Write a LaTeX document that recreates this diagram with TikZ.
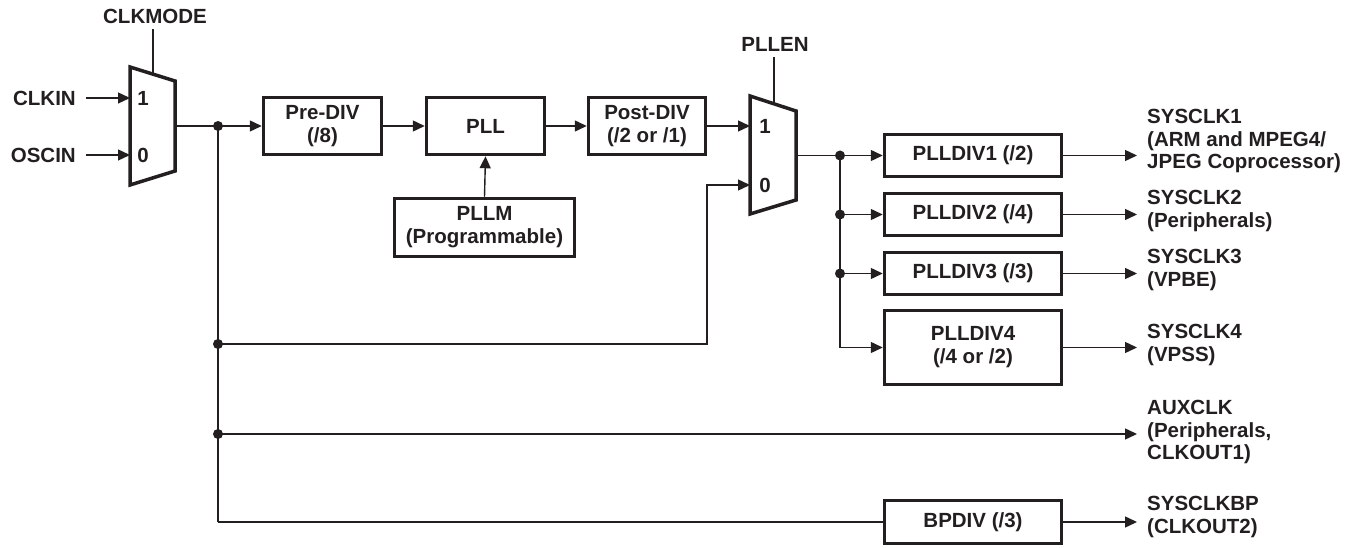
\documentclass[tikz,border=0pt]{standalone}
\usepackage{fontspec}
\setmainfont{Liberation Sans}
\usetikzlibrary{arrows.meta}
\definecolor{ink}{HTML}{231F20}
\tikzset{
  wire/.style={draw=ink, line width=1.4pt},
  arr/.style={wire, -{Triangle[length=12pt,width=11pt]}},
  blk/.style={draw=ink, line width=3.5pt, minimum height=#1, inner sep=0pt, align=center, font=\bfseries\fontsize{20.5}{23}\selectfont, text=ink},
  lbl/.style={inner sep=0pt, align=left, font=\bfseries\fontsize{20.5}{22.5}\selectfont, text=ink},
  muxs/.style={draw=ink, line width=3.5pt, line join=miter},
  jdot/.style={circle, fill=ink, inner sep=0pt, minimum size=10pt},
}
\begin{document}
\begin{tikzpicture}[x=1pt,y=-1pt]
\useasboundingbox (0,0) rectangle (1363,548);

% multiplexers
\draw[muxs] (130,67) -- (175,81) -- (175,171) -- (130,185) -- cycle;
\draw[muxs] (750,96) -- (796,111) -- (796,200) -- (750,214) -- cycle;
\coordinate (m1a) at (130,98);
\coordinate (m1b) at (130,155);
\coordinate (m1o) at (175,126);
\coordinate (m1s) at (153,74);
\coordinate (m2a) at (750,126);
\coordinate (m2b) at (750,185);
\coordinate (m2o) at (796,155.5);
\coordinate (m2s) at (774,104);
\node[lbl] (m1one) at (143,98) {1};
\node[lbl] (m1zero) at (143,155) {0};
\node[lbl] (m2one) at (765,126) {1};
\node[lbl] (m2zero) at (765,185) {0};

% select labels
\node[lbl] (clkmode) at (155,16) {CLKMODE};
\node[lbl] (pllen) at (775,44) {PLLEN};
\draw[wire] (clkmode.south) ++(-2,6) coordinate (cms) -- (m1s);
\draw[wire] (pllen.south) ++(-1,6) coordinate (pes) -- (m2s);

% inputs
\node[lbl, anchor=east] (clkin) at (76,98) {CLKIN};
\node[lbl, anchor=east] (oscin) at (76,155) {OSCIN};
\draw[arr] (clkin.east) ++(10,0) -- (m1a);
\draw[arr] (oscin.east) ++(10,0) -- (m1b);

% blocks
\node[blk=57pt, minimum width=118pt] (pre) at (322.5,126) {Pre-DIV\\(/8)};
\node[blk=57pt, minimum width=118pt] (pll) at (485.5,126) {PLL};
\node[blk=57pt, minimum width=117pt] (post) at (647,126) {Post-DIV\\(/2 or /1)};
\node[blk=58pt, minimum width=180pt] (pllm) at (484.5,227.5) {PLLM\\(Programmable)};
\node[blk=42pt, minimum width=177pt] (d1) at (973,155.5) {PLLDIV1 (/2)};
\node[blk=42pt, minimum width=177pt] (d2) at (973,214.5) {PLLDIV2 (/4)};
\node[blk=42pt, minimum width=177pt] (d3) at (973,273.5) {PLLDIV3 (/3)};
\node[blk=74pt, minimum width=177pt] (d4) at (973,347.5) {PLLDIV4\\(/4 or /2)};
\node[blk=43pt, minimum width=177pt] (bp) at (973,522) {BPDIV (/3)};

% junctions
\node[jdot] (j0) at (218,126) {};
\node[jdot] (j1) at (218,344) {};
\node[jdot] (j2) at (218,434) {};
\coordinate (j3) at (218,522);
\node[jdot] (k0) at (840,155.5) {};
\node[jdot] (k1) at (840,214.5) {};
\node[jdot] (k2) at (840,273.5) {};
\coordinate (k3) at (840,347.5);
\coordinate (r0) at (707,344);

% main path
\draw[wire] (m1o) -- (j0.center);
\draw[arr] (j0.center) -- (pre.west);
\draw[arr] (pre.east) -- (pll.west);
\draw[arr] (pll.east) -- (post.west);
\draw[arr] (post.east) -- (m2a);
\draw[arr] (pllm.north) -- (pll.south);
\draw[wire] (j0.center) -- (j3);
\draw[wire] (j3) -- (bp.west);
\draw[arr] (j1.center) -- (r0) |- (m2b);

% pll dividers
\draw[wire] (m2o) -- (k0.center);
\draw[arr] (k0.center) -- (d1.west);
\draw[wire] (k0.center) -- (k3);
\draw[arr] (k1.center) -- (d2.west);
\draw[arr] (k2.center) -- (d3.west);
\draw[arr] (k3) -- (d4.west);

% outputs
\coordinate (o1) at (1137,155.5);
\coordinate (o2) at (1137,214.5);
\coordinate (o3) at (1137,273.5);
\coordinate (o4) at (1137,347.5);
\coordinate (o5) at (1137,434);
\coordinate (o6) at (1137,522);
\draw[arr] (d1.east) -- (o1);
\draw[arr] (d2.east) -- (o2);
\draw[arr] (d3.east) -- (o3);
\draw[arr] (d4.east) -- (o4);
\draw[arr] (j2.center) -- (o5);
\draw[arr] (bp.east) -- (o6);

\node[lbl, anchor=west] (s1) at (1147,141) {SYSCLK1\\(ARM and MPEG4/\\JPEG Coprocessor)};
\node[lbl, anchor=west] (s2) at (1147,211) {SYSCLK2\\(Peripherals)};
\node[lbl, anchor=west] (s3) at (1147,270) {SYSCLK3\\(VPBE)};
\node[lbl, anchor=west] (s4) at (1147,345) {SYSCLK4\\(VPSS)};
\node[lbl, anchor=west] (s5) at (1147,432) {AUXCLK\\(Peripherals,\\CLKOUT1)};
\node[lbl, anchor=west] (s6) at (1147,517) {SYSCLKBP\\(CLKOUT2)};
\end{tikzpicture}
\end{document}
